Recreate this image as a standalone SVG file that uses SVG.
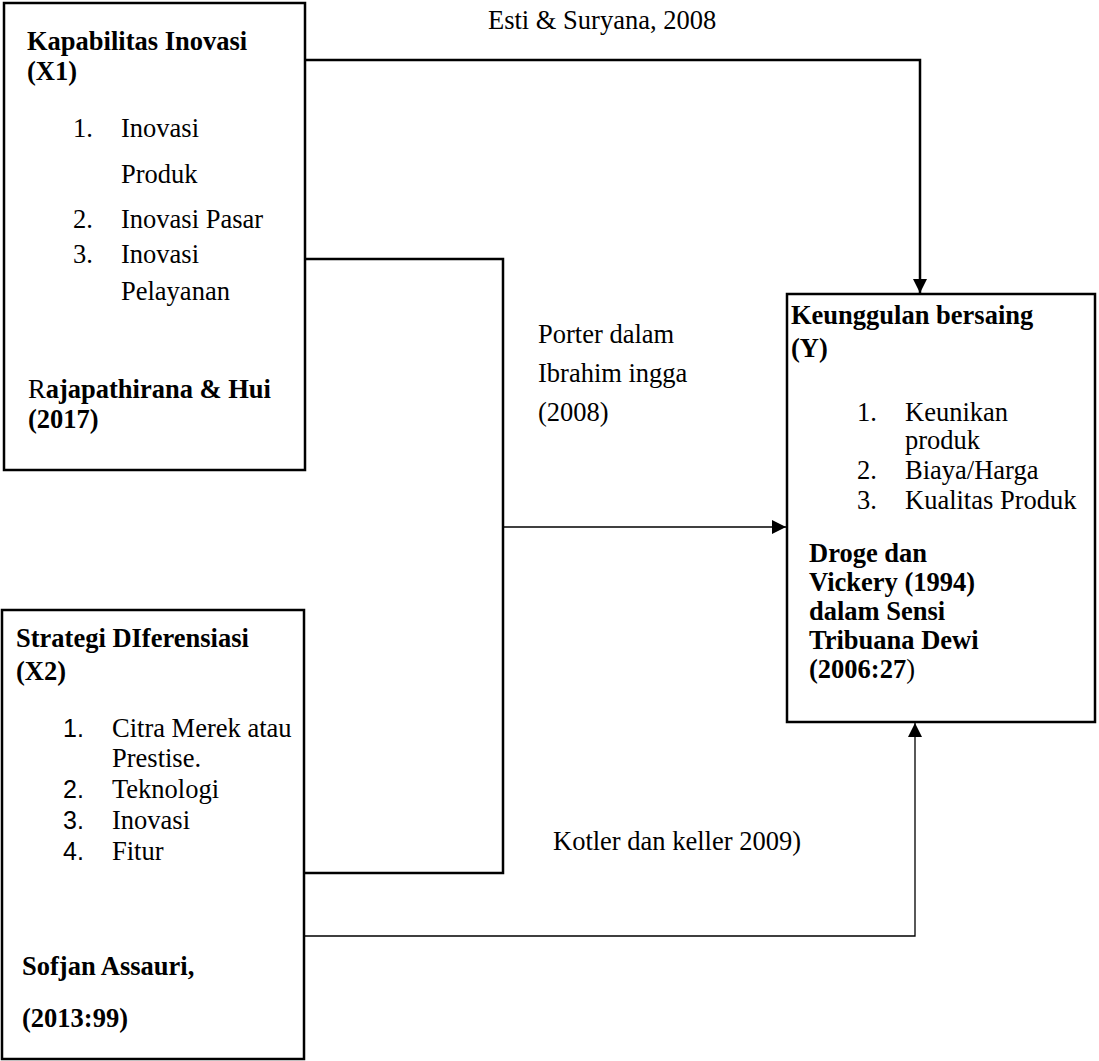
<svg xmlns="http://www.w3.org/2000/svg" width="1099" height="1061" viewBox="0 0 1099 1061">
<defs>
<style>
.box{fill:#fff;stroke:#000;stroke-width:2.5}
.t{font-family:"Liberation Serif","Times New Roman",serif;font-size:26.5px;fill:#000}
.b{font-weight:bold}
.n{font-family:"Liberation Sans",Arial,sans-serif;font-size:25px;fill:#000}
.thick{fill:none;stroke:#000;stroke-width:2.5}
.thin{fill:none;stroke:#000;stroke-width:1.3}
</style>
<marker id="ah" viewBox="0 0 10 10" refX="10" refY="5" markerWidth="14" markerHeight="14" markerUnits="userSpaceOnUse" orient="auto">
<path d="M0,0 L10,5 L0,10 z" fill="#000"/>
</marker>
</defs>
<rect width="1099" height="1061" fill="#fff"/>
<g id="connectors">
<polyline class="thick" points="305,60 920,60 920,293" marker-end="url(#ah)"/>
<polyline class="thick" points="305,259 503,259 503,873 305,873"/>
<line class="thin" x1="503" y1="527" x2="786" y2="527" marker-end="url(#ah)"/>
<polyline class="thin" points="305,936 915,936 915,723" marker-end="url(#ah)"/>
</g>
<g id="labels">
<text class="t" x="488" y="29">Esti &amp; Suryana, 2008</text>
<text class="t" x="538" y="343">Porter dalam</text>
<text class="t" x="538" y="382">Ibrahim ingga</text>
<text class="t" x="538" y="421">(2008)</text>
<text class="t" x="553" y="850">Kotler dan keller 2009)</text>
</g>
<g id="node-x1">
<rect class="box" x="4" y="3" width="301" height="467"/>
<text class="t b" x="27" y="50">Kapabilitas Inovasi</text>
<text class="t b" x="27" y="80">(X1)</text>
<text class="t" x="73" y="137">1.</text>
<text class="t" x="121" y="137">Inovasi</text>
<text class="t" x="121" y="183">Produk</text>
<text class="t" x="73" y="228">2.</text>
<text class="t" x="121" y="228">Inovasi Pasar</text>
<text class="t" x="73" y="263">3.</text>
<text class="t" x="121" y="263">Inovasi</text>
<text class="t" x="121" y="300">Pelayanan</text>
<text class="t b" x="28" y="398"><tspan font-weight="normal">R</tspan>ajapathirana &amp; Hui</text>
<text class="t b" x="28" y="428">(2017)</text>
</g>
<g id="node-x2">
<rect class="box" x="2" y="610" width="302" height="449"/>
<text class="t b" x="16" y="647">Strategi DIferensiasi</text>
<text class="t b" x="16" y="680">(X2)</text>
<text class="n" x="63" y="737">1.</text>
<text class="t" x="112" y="737">Citra Merek atau</text>
<text class="t" x="112" y="767">Prestise.</text>
<text class="n" x="63" y="798">2.</text>
<text class="t" x="112" y="798">Teknologi</text>
<text class="n" x="63" y="829">3.</text>
<text class="t" x="112" y="829">Inovasi</text>
<text class="n" x="63" y="860">4.</text>
<text class="t" x="112" y="860">Fitur</text>
<text class="t b" x="22" y="975">Sofjan Assauri,</text>
<text class="t b" x="22" y="1027">(2013:99)</text>
</g>
<g id="node-y">
<rect class="box" x="787" y="294" width="308" height="428"/>
<text class="t b" x="791" y="324">Keunggulan bersaing</text>
<text class="t b" x="791" y="357">(Y)</text>
<text class="t" x="857" y="421">1.</text>
<text class="t" x="905" y="421">Keunikan</text>
<text class="t" x="905" y="449">produk</text>
<text class="t" x="857" y="479">2.</text>
<text class="t" x="905" y="479">Biaya/Harga</text>
<text class="t" x="857" y="509">3.</text>
<text class="t" x="905" y="509">Kualitas Produk</text>
<text class="t b" x="809" y="562">Droge dan</text>
<text class="t b" x="809" y="591">Vickery (1994)</text>
<text class="t b" x="809" y="620">dalam Sensi</text>
<text class="t b" x="809" y="649">Tribuana Dewi</text>
<text class="t b" x="809" y="678">(2006:27<tspan font-weight="normal">)</tspan></text>
</g>
</svg>
